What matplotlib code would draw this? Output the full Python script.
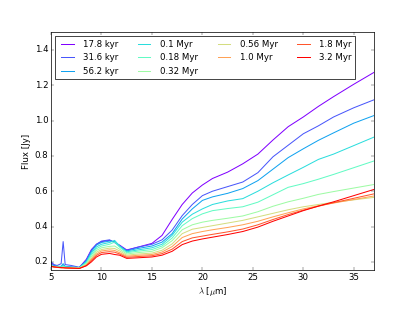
import matplotlib
matplotlib.use("Agg")
import matplotlib.pyplot as plt
import numpy as np

# wavelength grid (micron)
wave = [5.0, 5.3, 5.6, 6.0, 6.2, 6.4, 7.0, 7.8, 8.5, 9.0, 9.5, 10.0, 10.8, 11.3,
        11.8, 12.5, 13.5, 15.0, 16.0, 17.0, 18.0, 19.0, 20.0, 21.0, 22.5, 24.0,
        25.5, 27.0, 28.5, 30.0, 31.5, 33.0, 35.0, 37.0]

ages = ["17.8 kyr", "31.6 kyr", "56.2 kyr", "0.1 Myr", "0.18 Myr",
        "0.32 Myr", "0.56 Myr", "1.0 Myr", "1.8 Myr", "3.2 Myr"]

flux_17k = [.195, .18, .175, .172, .178, .172, .17, .168, .215, .27, .30, .315, .322, .31,
            .295, .268, .282, .305, .35, .44, .525, .59, .635, .672, .708, .755,
            .81, .89, .965, 1.02, 1.08, 1.135, 1.205, 1.272]
flux_31k = [.20, .185, .18, .19, .315, .185, .18, .17, .21, .265, .30, .318, .325, .31,
            .29, .265, .282, .30, .325, .38, .462, .525, .575, .60, .626, .652,
            .705, .795, .86, .925, .97, 1.02, 1.072, 1.117]
flux_56k = [.185, .178, .175, .175, .19, .175, .172, .168, .205, .26, .295, .31, .318, .315,
            .29, .262, .275, .29, .312, .36, .443, .50, .548, .568, .588, .615,
            .66, .725, .79, .84, .888, .93, .985, 1.028]
flux_01m = [.18, .175, .175, .172, .18, .172, .17, .168, .20, .25, .285, .30, .31, .322,
            .29, .257, .267, .28, .30, .35, .425, .47, .50, .525, .545, .558,
            .60, .648, .692, .735, .78, .81, .858, .906]
flux_018m = [.178, .174, .172, .17, .175, .17, .168, .166, .195, .24, .275, .29, .30, .312,
             .283, .252, .26, .27, .29, .335, .405, .445, .472, .49, .502, .512,
             .538, .58, .622, .643, .668, .695, .733, .771]
flux_032m = [.177, .173, .171, .169, .171, .169, .167, .165, .19, .23, .265, .28, .288, .29,
             .272, .245, .252, .26, .28, .32, .382, .41, .425, .435, .447, .46,
             .484, .515, .54, .56, .582, .598, .618, .638]
flux_056m = [.176, .172, .17, .168, .169, .168, .166, .164, .185, .22, .255, .27, .278, .276,
             .262, .238, .244, .25, .266, .302, .36, .385, .395, .405, .42, .435,
             .455, .475, .495, .512, .525, .537, .551, .565]
flux_1m = [.175, .171, .169, .167, .168, .167, .165, .163, .182, .215, .245, .262, .268, .265,
           .252, .232, .237, .242, .256, .287, .338, .36, .372, .382, .395, .41,
           .43, .455, .478, .50, .518, .533, .553, .573]
flux_18m = [.175, .171, .169, .167, .167, .166, .165, .163, .18, .208, .237, .253, .258, .255,
            .245, .226, .23, .235, .247, .272, .315, .336, .346, .356, .37, .386,
            .41, .44, .468, .493, .515, .535, .56, .585]
flux_32m = [.175, .172, .17, .168, .167, .166, .165, .163, .178, .20, .228, .243, .248, .242,
            .238, .22, .223, .228, .238, .26, .298, .318, .33, .34, .355, .372,
            .397, .43, .46, .49, .516, .54, .575, .61]

all_flux = [flux_17k, flux_31k, flux_56k, flux_01m, flux_018m,
            flux_032m, flux_056m, flux_1m, flux_18m, flux_32m]

plt.style.use("classic")
fig = plt.figure(figsize=(415 / 52.0, 6), dpi=52)
ax = fig.add_subplot(111)
fig.subplots_adjust(left=0.123, right=0.901, top=0.897, bottom=0.135)

colors = plt.cm.rainbow(np.linspace(0, 1, len(ages)))
for flux, age, c in zip(all_flux, ages, colors):
    ax.plot(wave, flux, color=c, label=age, lw=1.4)

ax.set_xlim(5, 37)
ax.set_ylim(0.155, 1.5)
ax.set_xticks(np.arange(5, 36, 5))
ax.set_yticks(np.arange(0.2, 1.41, 0.2))
ax.set_xlabel(r"$\lambda$ [$\mu$m]")
ax.set_ylabel("Flux [Jy]")
ax.legend(loc="upper left", ncol=4, fontsize=12)

fig.savefig("out.png", dpi=52)
